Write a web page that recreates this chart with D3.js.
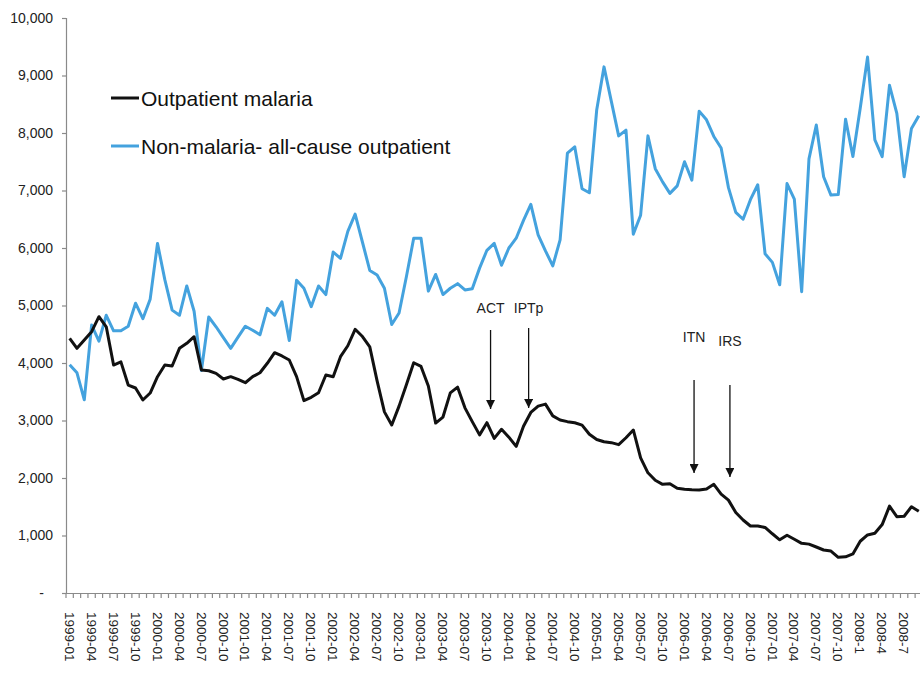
<!doctype html>
<meta charset="utf-8">
<style>
body { margin: 0; background: #fff; }
svg text { font-family: "Liberation Sans", Arial, sans-serif; }
.axis path, .axis line { stroke: #8a8a8a; stroke-width: 1.2; }
.axis text { fill: #222; }
.note { font-family: "Liberation Sans Narrow", "Arial Narrow", "Liberation Sans", sans-serif; font-size: 14px; fill: #222; }
</style>
<body>
<div id="viz"></div>
<script src="https://cdnjs.cloudflare.com/ajax/libs/d3/7.8.5/d3.min.js"></script>
<script>
// monthly categories, 1999-01 .. 2008-09
var months = [];
for (var i = 0; i < 117; i++) {
    var yr = 1999 + Math.floor(i / 12), mo = i % 12 + 1;
    months.push(yr + "-" + (mo < 10 ? "0" + mo : mo));
}

// tick labels shown every 3 months (2008 written without the zero)
var tickLabels = ["1999-01","1999-04","1999-07","1999-10","2000-01","2000-04","2000-07","2000-10",
    "2001-01","2001-04","2001-07","2001-10","2002-01","2002-04","2002-07","2002-10",
    "2003-01","2003-04","2003-07","2003-10","2004-01","2004-04","2004-07","2004-10",
    "2005-01","2005-04","2005-07","2005-10","2006-01","2006-04","2006-07","2006-10",
    "2007-01","2007-04","2007-07","2007-10","2008-1","2008-4","2008-7"];

var malaria = [4430,4255,4400,4545,4805,4630,3965,4020,3617,3565,
    3357,3478,3762,3965,3948,4255,4342,4457,3878,3865,
    3820,3722,3762,3716,3657,3762,3831,3995,4179,4122,
    4052,3762,3345,3403,3483,3791,3762,4110,4300,4586,
    4460,4280,3690,3150,2922,3250,3620,4005,3940,3600,
    2955,3060,3480,3580,3220,2980,2750,2962,2690,2847,
    2710,2550,2900,3140,3250,3285,3080,3009,2980,2960,
    2920,2760,2670,2630,2615,2580,2700,2835,2350,2090,
    1960,1890,1900,1820,1805,1795,1790,1809,1890,1720,
    1615,1400,1270,1165,1165,1140,1030,925,1005,935,
    864,850,800,748,730,620,630,680,900,1010,
    1038,1190,1510,1327,1335,1500,1420];

var nonMalaria = [3970,3830,3360,4660,4380,4830,4560,4560,4640,5040,
    4770,5110,6080,5450,4920,4830,5340,4900,3870,4800,
    4630,4440,4255,4450,4640,4570,4490,4950,4830,5066,
    4390,5440,5300,4980,5340,5190,5930,5820,6290,6590,
    6100,5610,5530,5300,4670,4870,5500,6168,6170,5250,
    5540,5190,5300,5380,5270,5290,5650,5960,6080,5700,
    6000,6170,6480,6760,6230,5950,5690,6140,7650,7760,
    7030,6960,8400,9150,8550,7950,8050,6240,6570,7950,
    7380,7150,6950,7080,7500,7180,8380,8230,7940,7740,
    7050,6620,6500,6840,7100,5900,5750,5360,7120,6850,
    5240,7550,8140,7240,6920,6930,8240,7590,8430,9320,
    7880,7590,8830,8340,7240,8080,8300];

var seriesNames = ["Outpatient malaria", "Non-malaria- all-cause outpatient"];
var seriesColors = ["#111111", "#44a2de"];

// interventions: month position (fractional index), label value, arrow from/to values
var notes = [
    {label: "ACT",  idx: 57.5, text: 4957, from: 4574, to: 3200},
    {label: "IPTp", idx: 62.7, text: 4957, from: 4609, to: 3217},
    {label: "ITN",  idx: 85.3, text: 4452, from: 3704, to: 2087},
    {label: "IRS",  idx: 90.2, text: 4383, from: 3617, to: 2017}
];

var W = 920, H = 673;
var svg = d3.select("#viz").append("svg").attr("width", W).attr("height", H);

var x = d3.scaleBand().domain(months).range([66, 66 + 7.32 * months.length]);
// fractional month index, measured at month centres
var xi = d3.scaleLinear().domain([-0.5, months.length - 0.5]).range(x.range());
var y = d3.scaleLinear().domain([0, 10000]).range([593, 18]);
var cx = function(i) { return x(months[i]) + x.bandwidth() / 2; };

svg.append("defs").append("marker")
    .attr("id", "arr").attr("viewBox", "0 0 10 10").attr("refX", 10).attr("refY", 5)
    .attr("markerWidth", 9).attr("markerHeight", 9).attr("markerUnits", "userSpaceOnUse")
    .attr("orient", "auto")
    .append("path").attr("d", "M0,0 L10,5 L0,10 z").attr("fill", "#111");

// y axis
var ya = svg.append("g").attr("class", "axis").attr("transform", "translate(66,0)")
    .call(d3.axisLeft(y).tickValues(d3.range(0, 10001, 1000)).tickSize(4).tickPadding(9)
        .tickFormat(function(d) { return d === 0 ? "-" : d3.format(",")(d); }));
ya.selectAll("text").style("font-size", "14px");
ya.selectAll(".tick").filter(function(d) { return d === 0; }).select("text").attr("x", -22);

// x axis: labels every 3 months, ticks between months
var labelled = months.filter(function(m, i) { return i % 3 === 0; });
var xa = svg.append("g").attr("class", "axis").attr("transform", "translate(0,593)")
    .call(d3.axisBottom(x).tickValues(labelled).tickSize(0)
        .tickFormat(function(m) { return tickLabels[months.indexOf(m) / 3]; }));
xa.selectAll("text")
    .style("font-size", "13.5px").style("text-anchor", "start")
    .attr("transform", "rotate(90)").attr("x", 19).attr("y", 0).attr("dy", "0.36em");
xa.selectAll(".mtick").data(months).enter().append("line").attr("class", "mtick")
    .attr("x1", function(m) { return x(m); }).attr("x2", function(m) { return x(m); })
    .attr("y1", 0).attr("y2", 5);

// lines
var line = d3.line().x(function(d, i) { return cx(i); }).y(function(d) { return y(d); });
[nonMalaria, malaria].forEach(function(s, k) {
    svg.append("path").datum(s)
        .attr("fill", "none").attr("stroke", seriesColors[1 - k]).attr("stroke-width", 3)
        .attr("stroke-linejoin", "round").attr("d", line);
});

// annotations
notes.forEach(function(n) {
    svg.append("text").attr("class", "note").attr("x", xi(n.idx)).attr("y", y(n.text))
        .attr("dy", "0.35em").attr("text-anchor", "middle").text(n.label);
    svg.append("line").attr("x1", xi(n.idx)).attr("x2", xi(n.idx))
        .attr("y1", y(n.from)).attr("y2", y(n.to))
        .attr("stroke", "#111").attr("stroke-width", 1.3).attr("marker-end", "url(#arr)");
});

// legend
seriesNames.forEach(function(name, k) {
    var ly = 98 + k * 48;
    svg.append("line").attr("x1", 111).attr("x2", 139).attr("y1", ly).attr("y2", ly)
        .attr("stroke", seriesColors[k]).attr("stroke-width", 3);
    svg.append("text").attr("x", 141).attr("y", ly).attr("dy", "0.36em")
        .style("font-size", "21px").attr("fill", "#111").text(name);
});
</script>
</body>
</html>
